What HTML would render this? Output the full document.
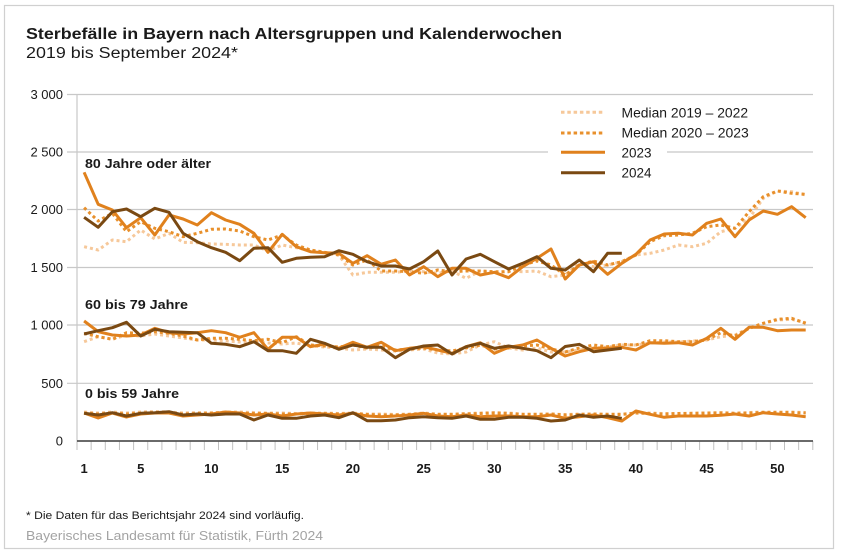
<!DOCTYPE html>
<html><head><meta charset="utf-8"><style>
html,body{margin:0;padding:0;background:#fff;}
svg{display:block;}
text{font-family:"Liberation Sans",Arial,sans-serif;}
</style></head><body>
<svg width="841" height="556" viewBox="0 0 841 556" xmlns="http://www.w3.org/2000/svg">
<rect x="0" y="0" width="841" height="556" fill="#fff"/>
<rect x="4.5" y="5.5" width="829" height="543" fill="none" stroke="#d0d0d0" stroke-width="1.2"/>

<text x="26" y="39" font-size="15.5" font-weight="bold" fill="#1a1a1a" textLength="536" lengthAdjust="spacingAndGlyphs">Sterbefälle in Bayern nach Altersgruppen und Kalenderwochen</text>
<text x="26" y="58" font-size="15.5" fill="#1a1a1a" textLength="212" lengthAdjust="spacingAndGlyphs">2019 bis September 2024*</text>

<!-- grid -->
<g stroke="#c8c8c8" stroke-width="1.2">
<line x1="67" y1="94.5" x2="813" y2="94.5"/>
<line x1="67" y1="152" x2="813" y2="152"/>
<line x1="67" y1="209.5" x2="813" y2="209.5"/>
<line x1="67" y1="267.5" x2="813" y2="267.5"/>
<line x1="67" y1="325" x2="813" y2="325"/>
<line x1="67" y1="383.3" x2="813" y2="383.3"/>
<line x1="77" y1="94" x2="77" y2="441"/>
</g>
<g font-size="13" fill="#1a1a1a" text-anchor="end">
<text x="63" y="99">3 000</text>
<text x="63" y="156.5">2 500</text>
<text x="63" y="214">2 000</text>
<text x="63" y="272">1 500</text>
<text x="63" y="329.5">1 000</text>
<text x="63" y="388">500</text>
<text x="63" y="445.5">0</text>
</g>

<!-- ticks -->
<g stroke="#c0c0c0" stroke-width="1">
<line x1="77" y1="441" x2="77" y2="450"/><line x1="91.15" y1="441" x2="91.15" y2="450"/><line x1="105.3" y1="441" x2="105.3" y2="450"/><line x1="119.45" y1="441" x2="119.45" y2="450"/><line x1="133.6" y1="441" x2="133.6" y2="450"/><line x1="147.75" y1="441" x2="147.75" y2="450"/><line x1="161.9" y1="441" x2="161.9" y2="450"/><line x1="176.05" y1="441" x2="176.05" y2="450"/><line x1="190.2" y1="441" x2="190.2" y2="450"/><line x1="204.35" y1="441" x2="204.35" y2="450"/><line x1="218.5" y1="441" x2="218.5" y2="450"/><line x1="232.65" y1="441" x2="232.65" y2="450"/><line x1="246.8" y1="441" x2="246.8" y2="450"/><line x1="260.95" y1="441" x2="260.95" y2="450"/><line x1="275.1" y1="441" x2="275.1" y2="450"/><line x1="289.25" y1="441" x2="289.25" y2="450"/><line x1="303.4" y1="441" x2="303.4" y2="450"/><line x1="317.55" y1="441" x2="317.55" y2="450"/><line x1="331.7" y1="441" x2="331.7" y2="450"/><line x1="345.85" y1="441" x2="345.85" y2="450"/><line x1="360" y1="441" x2="360" y2="450"/><line x1="374.15" y1="441" x2="374.15" y2="450"/><line x1="388.3" y1="441" x2="388.3" y2="450"/><line x1="402.45" y1="441" x2="402.45" y2="450"/><line x1="416.6" y1="441" x2="416.6" y2="450"/><line x1="430.75" y1="441" x2="430.75" y2="450"/><line x1="444.9" y1="441" x2="444.9" y2="450"/><line x1="459.05" y1="441" x2="459.05" y2="450"/><line x1="473.2" y1="441" x2="473.2" y2="450"/><line x1="487.35" y1="441" x2="487.35" y2="450"/><line x1="501.5" y1="441" x2="501.5" y2="450"/><line x1="515.65" y1="441" x2="515.65" y2="450"/><line x1="529.8" y1="441" x2="529.8" y2="450"/><line x1="543.95" y1="441" x2="543.95" y2="450"/><line x1="558.1" y1="441" x2="558.1" y2="450"/><line x1="572.25" y1="441" x2="572.25" y2="450"/><line x1="586.4" y1="441" x2="586.4" y2="450"/><line x1="600.55" y1="441" x2="600.55" y2="450"/><line x1="614.7" y1="441" x2="614.7" y2="450"/><line x1="628.85" y1="441" x2="628.85" y2="450"/><line x1="643" y1="441" x2="643" y2="450"/><line x1="657.15" y1="441" x2="657.15" y2="450"/><line x1="671.3" y1="441" x2="671.3" y2="450"/><line x1="685.45" y1="441" x2="685.45" y2="450"/><line x1="699.6" y1="441" x2="699.6" y2="450"/><line x1="713.75" y1="441" x2="713.75" y2="450"/><line x1="727.9" y1="441" x2="727.9" y2="450"/><line x1="742.05" y1="441" x2="742.05" y2="450"/><line x1="756.2" y1="441" x2="756.2" y2="450"/><line x1="770.35" y1="441" x2="770.35" y2="450"/><line x1="784.5" y1="441" x2="784.5" y2="450"/><line x1="798.65" y1="441" x2="798.65" y2="450"/><line x1="812.8" y1="441" x2="812.8" y2="450"/>
</g>
<line x1="77" y1="441" x2="813" y2="441" stroke="#555" stroke-width="1.8"/>

<g font-size="13" font-weight="bold" fill="#1a1a1a" text-anchor="middle">
<text x="84.1" y="473">1</text>
<text x="140.7" y="473">5</text>
<text x="211.4" y="473">10</text>
<text x="282.2" y="473">15</text>
<text x="352.9" y="473">20</text>
<text x="423.7" y="473">25</text>
<text x="494.4" y="473">30</text>
<text x="565.2" y="473">35</text>
<text x="635.9" y="473">40</text>
<text x="706.7" y="473">45</text>
<text x="777.4" y="473">50</text>
</g>

<!-- group labels -->
<g font-size="13" font-weight="bold" fill="#1a1a1a">
<text x="85" y="168" textLength="126" lengthAdjust="spacingAndGlyphs">80 Jahre oder älter</text>
<text x="85" y="309" textLength="103" lengthAdjust="spacingAndGlyphs">60 bis 79 Jahre</text>
<text x="85" y="398" textLength="94" lengthAdjust="spacingAndGlyphs">0 bis 59 Jahre</text>
</g>

<g fill="none" stroke-linejoin="round">
<!-- Median 2019-2022 -->
<g stroke="#f6c89a" stroke-width="3" stroke-dasharray="3 3">
<polyline points="84.1,246.7 98.2,250 112.4,240 126.5,241.7 140.7,230 154.8,239 169.0,233.3 183.1,242.3 197.3,242.7 211.4,244 225.6,244.3 239.7,245 253.9,245 268.0,251 282.2,245 296.3,247.7 310.5,250.7 324.6,252.3 338.8,255 352.9,275 367.1,272.3 381.2,272.3 395.4,272.3 409.5,271 423.7,271.7 437.8,273.3 452.0,271 466.1,278.3 480.3,271 494.4,273.3 508.6,271 522.7,271.7 536.9,271 551.0,276.7 565.2,275 579.3,263.3 593.5,266.7 607.6,265 621.8,261.7 635.9,255 650.1,253.3 664.2,250 678.4,245 692.5,246.7 706.7,243.3 720.8,231.7 735.0,228.3 749.1,218.3 763.3,198.3 777.4,191 791.6,191.7 805.7,195"/>
<polyline points="84.1,341.7 98.2,336.7 112.4,339.3 126.5,335 140.7,336 154.8,334 169.0,336 183.1,338 197.3,340 211.4,340 225.6,341 239.7,342 253.9,342 268.0,343 282.2,344 296.3,343 310.5,346 324.6,347 338.8,348 352.9,350 367.1,349 381.2,350 395.4,351 409.5,350 423.7,349 437.8,353 452.0,354 466.1,352 480.3,345 494.4,341.7 508.6,348 522.7,350 536.9,348 551.0,352 565.2,352 579.3,350 593.5,348 607.6,347 621.8,345 635.9,345 650.1,343 664.2,342 678.4,342 692.5,341 706.7,340 720.8,336.7 735.0,335 749.1,328.3 763.3,323.3 777.4,320 791.6,319.3 805.7,322.7"/>
<polyline points="84.1,412 98.2,413 112.4,412 126.5,413 140.7,412 154.8,411.5 169.0,412 183.1,413 197.3,412.5 211.4,413 225.6,412 239.7,412 253.9,412.5 268.0,413 282.2,413 296.3,413.5 310.5,413 324.6,413 338.8,413.5 352.9,413 367.1,414 381.2,414 395.4,414.5 409.5,414 423.7,413 437.8,414 452.0,414 466.1,413.5 480.3,413 494.4,412.5 508.6,413 522.7,414 536.9,414 551.0,414 565.2,414.5 579.3,414 593.5,414 607.6,414 621.8,414 635.9,413 650.1,413 664.2,413.5 678.4,413.5 692.5,413 706.7,413 720.8,412.5 735.0,413 749.1,412.5 763.3,412 777.4,412 791.6,412 805.7,412.5"/>
</g>
<!-- Median 2020-2023 -->
<g stroke="#e8902c" stroke-width="3" stroke-dasharray="3 3">
<polyline points="84.1,207.7 98.2,221 112.4,213.3 126.5,231.7 140.7,221.7 154.8,228.3 169.0,231.7 183.1,236.7 197.3,233.3 211.4,229.3 225.6,229 239.7,231 253.9,236.7 268.0,240 282.2,235 296.3,245 310.5,250 324.6,252.3 338.8,255 352.9,265 367.1,260 381.2,271 395.4,271 409.5,271.7 423.7,273.3 437.8,270 452.0,271.7 466.1,271 480.3,271 494.4,271.7 508.6,271.7 522.7,265 536.9,261 551.0,265 565.2,275 579.3,265 593.5,261 607.6,265 621.8,261.7 635.9,255 650.1,241.7 664.2,235.7 678.4,235 692.5,233.3 706.7,226.7 720.8,225 735.0,228.3 749.1,211.7 763.3,196.7 777.4,191 791.6,193.3 805.7,194.3"/>
<polyline points="84.1,333.3 98.2,336.7 112.4,339.3 126.5,332.7 140.7,333.3 154.8,331.7 169.0,333.3 183.1,336 197.3,340 211.4,338.3 225.6,338.3 239.7,339.3 253.9,340.7 268.0,339.3 282.2,342.7 296.3,336.7 310.5,345 324.6,346 338.8,347 352.9,345 367.1,348 381.2,346 395.4,350 409.5,349 423.7,348 437.8,350 452.0,351 466.1,348 480.3,345 494.4,349 508.6,348 522.7,346 536.9,345 551.0,349 565.2,352 579.3,348 593.5,345 607.6,346.7 621.8,344.3 635.9,345 650.1,340.7 664.2,340.7 678.4,341.7 692.5,341.7 706.7,340 720.8,332.7 735.0,336 749.1,328.3 763.3,323.3 777.4,319.3 791.6,318.3 805.7,323.3"/>
<polyline points="84.1,413 98.2,414 112.4,413 126.5,414 140.7,413 154.8,412.5 169.0,413 183.1,414 197.3,413.5 211.4,413 225.6,412.5 239.7,413 253.9,413.5 268.0,413.5 282.2,414 296.3,414 310.5,413.5 324.6,413.5 338.8,414 352.9,413.5 367.1,414.5 381.2,415 395.4,415 409.5,414.5 423.7,413.5 437.8,414.5 452.0,414.5 466.1,414 480.3,413.5 494.4,413 508.6,413.5 522.7,414.5 536.9,414.5 551.0,414 565.2,415 579.3,414.5 593.5,414 607.6,414.5 621.8,414.5 635.9,413 650.1,413.5 664.2,414 678.4,413.5 692.5,413.5 706.7,413 720.8,413 735.0,413.5 749.1,413 763.3,412.5 777.4,412.5 791.6,412.5 805.7,413"/>
</g>
<!-- 2023 -->
<g stroke="#e0811d" stroke-width="3">
<polyline points="84.1,172.3 98.2,204.3 112.4,210 126.5,227.7 140.7,217.7 154.8,235 169.0,215 183.1,219 197.3,225 211.4,212.7 225.6,220 239.7,224.3 253.9,233.3 268.0,252.3 282.2,234.3 296.3,246.7 310.5,251.7 324.6,252.7 338.8,253.3 352.9,263.3 367.1,255.7 381.2,264.3 395.4,260 409.5,275 423.7,266.7 437.8,276.7 452.0,268.3 466.1,268.3 480.3,275 494.4,272.3 508.6,277.7 522.7,266.7 536.9,258.3 551.0,249 565.2,279 579.3,265 593.5,261.7 607.6,274.3 621.8,263.3 635.9,254.3 650.1,240 664.2,234 678.4,233.3 692.5,235 706.7,223.3 720.8,219 735.0,236.7 749.1,220 763.3,211 777.4,214.3 791.6,206.7 805.7,217.7"/>
<polyline points="84.1,321 98.2,331.7 112.4,335 126.5,336 140.7,335 154.8,328.3 169.0,332.7 183.1,334 197.3,332.7 211.4,330.7 225.6,332.7 239.7,337.3 253.9,332.7 268.0,349.3 282.2,337.3 296.3,337.3 310.5,346.7 324.6,344 338.8,348.3 352.9,342.3 367.1,347.3 381.2,342.3 395.4,350.7 409.5,348.3 423.7,346.7 437.8,350 452.0,353.3 466.1,346.7 480.3,342.7 494.4,353.3 508.6,347.3 522.7,345 536.9,340 551.0,348.3 565.2,356 579.3,351.7 593.5,348.3 607.6,348.3 621.8,347.3 635.9,350 650.1,342.7 664.2,343.3 678.4,342.7 692.5,345 706.7,338.3 720.8,328.3 735.0,339.3 749.1,327.3 763.3,327.3 777.4,330.7 791.6,330 805.7,330"/>
<polyline points="84.1,413 98.2,418 112.4,413 126.5,417 140.7,414 154.8,413 169.0,413 183.1,416 197.3,415 211.4,414 225.6,412 239.7,413 253.9,415 268.0,414 282.2,416 296.3,414 310.5,413 324.6,414 338.8,415 352.9,413.3 367.1,416 381.2,416.7 395.4,416 409.5,415 423.7,413.3 437.8,416 452.0,416.7 466.1,415 480.3,416.7 494.4,416 508.6,416 522.7,416.7 536.9,416.7 551.0,415 565.2,418.3 579.3,416.7 593.5,415 607.6,417.7 621.8,421 635.9,411 650.1,414.3 664.2,417.3 678.4,416 692.5,416 706.7,416 720.8,415.3 735.0,414 749.1,416 763.3,412.7 777.4,414 791.6,415 805.7,416.7"/>
</g>
<!-- 2024 -->
<g stroke="#7a4912" stroke-width="3">
<polyline points="84.1,217.3 98.2,227.3 112.4,211.7 126.5,209 140.7,216.7 154.8,208.3 169.0,212.3 183.1,233.3 197.3,241.7 211.4,247.7 225.6,252.3 239.7,260.7 253.9,248.3 268.0,247.7 282.2,262.3 296.3,258.3 310.5,257.3 324.6,256.7 338.8,250.7 352.9,254.3 367.1,261.7 381.2,266 395.4,266 409.5,269 423.7,261.7 437.8,251 452.0,275 466.1,259 480.3,254.3 494.4,261.7 508.6,269 522.7,263.3 536.9,256.7 551.0,268.3 565.2,270 579.3,260 593.5,271.7 607.6,253.3 621.8,253.3"/>
<polyline points="84.1,334 98.2,330.7 112.4,327.7 126.5,322.3 140.7,336 154.8,329.3 169.0,331.7 183.1,332.3 197.3,332.7 211.4,343.3 225.6,344.3 239.7,346.7 253.9,341.7 268.0,350.7 282.2,350.7 296.3,353.3 310.5,339.3 324.6,343.3 338.8,349.3 352.9,345 367.1,347.3 381.2,347.3 395.4,357.7 409.5,349.3 423.7,346 437.8,345 452.0,354 466.1,346.7 480.3,343.3 494.4,348.3 508.6,346 522.7,348.3 536.9,350.7 551.0,357.7 565.2,346.5 579.3,344.3 593.5,351.7 607.6,350 621.8,348.3"/>
<polyline points="84.1,413.3 98.2,415 112.4,412.7 126.5,416 140.7,413.3 154.8,412.7 169.0,411.7 183.1,415 197.3,414 211.4,415 225.6,414 239.7,414 253.9,420 268.0,415 282.2,418.3 296.3,418.3 310.5,416 324.6,415 338.8,417.7 352.9,412.7 367.1,420.7 381.2,420.7 395.4,420 409.5,417.7 423.7,416.7 437.8,417.7 452.0,418.3 466.1,416 480.3,419.3 494.4,419.3 508.6,417.3 522.7,417.3 536.9,418.3 551.0,421 565.2,420 579.3,415 593.5,417.3 607.6,416 621.8,418.3"/>
</g>
</g>

<!-- legend -->
<rect x="548" y="100" width="119" height="82" fill="#fff"/>
<g fill="none" stroke-width="3">
<line x1="561" y1="112.3" x2="605" y2="112.3" stroke="#f6c89a" stroke-dasharray="3.5 2.8"/>
<line x1="561" y1="133" x2="605" y2="133" stroke="#e8902c" stroke-dasharray="3.5 2.8"/>
<line x1="561" y1="152.3" x2="605" y2="152.3" stroke="#e0811d"/>
<line x1="561" y1="172.7" x2="605" y2="172.7" stroke="#7a4912"/>
</g>
<g font-size="13.5" fill="#1a1a1a">
<text x="621.5" y="117.5" textLength="126.6" lengthAdjust="spacingAndGlyphs">Median 2019 – 2022</text>
<text x="621.5" y="137.5" textLength="127.3" lengthAdjust="spacingAndGlyphs">Median 2020 – 2023</text>
<text x="621.5" y="157.3" textLength="30" lengthAdjust="spacingAndGlyphs">2023</text>
<text x="621.5" y="177.7" textLength="30" lengthAdjust="spacingAndGlyphs">2024</text>
</g>

<text x="26" y="519" font-size="11" fill="#1a1a1a" textLength="278" lengthAdjust="spacingAndGlyphs">* Die Daten für das Berichtsjahr 2024 sind vorläufig.</text>
<text x="26" y="540" font-size="12.5" fill="#a3a3a3" textLength="297" lengthAdjust="spacingAndGlyphs">Bayerisches Landesamt für Statistik, Fürth 2024</text>
</svg>
</body></html>
